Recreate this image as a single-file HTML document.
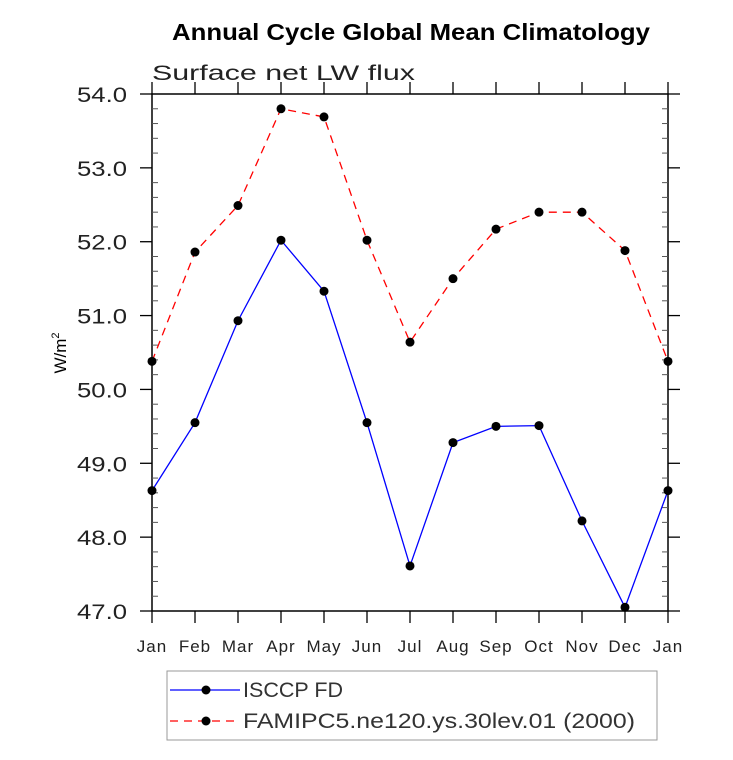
<!DOCTYPE html>
<html><head><meta charset="utf-8"><style>body{margin:0;background:#fff}svg{display:block}</style></head>
<body>
<svg width="733" height="760" viewBox="0 0 733 760" font-family="Liberation Sans, sans-serif">
<text x="172" y="40" font-size="23" font-weight="bold" textLength="478" lengthAdjust="spacingAndGlyphs">Annual Cycle Global Mean Climatology</text>
<text x="152" y="80" font-size="21" fill="#222" textLength="263" lengthAdjust="spacingAndGlyphs">Surface net LW flux</text>
<text transform="translate(66,353) rotate(-90)" text-anchor="middle" font-size="17">W/m<tspan font-size="11" dy="-7">2</tspan></text>
<g id="axes"></g>
<g id="series"></g>
<g>
<rect x="167" y="671" width="490" height="69" fill="none" stroke="#999" stroke-width="1"/>
<line x1="170" y1="690" x2="240" y2="690" stroke="#00f" stroke-width="1.3"/>
<circle cx="206" cy="690" r="4.5"/>
<text x="243" y="697" font-size="21" fill="#333" textLength="100" lengthAdjust="spacingAndGlyphs">ISCCP FD</text>
<line x1="170" y1="721" x2="240" y2="721" stroke="#f00" stroke-width="1.3" stroke-dasharray="8,6"/>
<circle cx="206" cy="721" r="4.5"/>
<text x="243" y="728" font-size="21" fill="#333" textLength="392" lengthAdjust="spacingAndGlyphs">FAMIPC5.ne120.ys.30lev.01 (2000)</text>
</g>
</svg>
<script>
const months=["Jan","Feb","Mar","Apr","May","Jun","Jul","Aug","Sep","Oct","Nov","Dec","Jan"];
const yTicks=[47,48,49,50,51,52,53,54];
const isccp=[48.63,49.55,50.93,52.02,51.33,49.55,47.61,49.28,49.50,49.51,48.22,47.05,48.63];
const famip=[50.38,51.86,52.49,53.80,53.69,52.02,50.64,51.50,52.17,52.40,52.40,51.88,50.38];
const L=152,R=668,T=94,B=611,ymin=47,ymax=54;
const ns="http://www.w3.org/2000/svg";
const xs=i=>L+i*(R-L)/12, ys=v=>B-(v-ymin)*(B-T)/(ymax-ymin);
function mk(t,a,p){const e=document.createElementNS(ns,t);for(const k in a)e.setAttribute(k,a[k]);p.appendChild(e);return e;}
const ax=document.getElementById('axes');
const frame=mk('rect',{x:L,y:T,width:R-L,height:B-T,fill:'none',stroke:'#000','stroke-width':1.5},ax);


months.forEach((m,i)=>{const x=xs(i);
 mk('line',{x1:x,y1:B,x2:x,y2:B+12,stroke:'#000','stroke-width':1.3},ax);
 mk('line',{x1:x,y1:T,x2:x,y2:T-12,stroke:'#000','stroke-width':1.3},ax);
 const t=mk('text',{x:x,y:B+41,'text-anchor':'middle','font-size':17,fill:'#222','letter-spacing':1},ax);t.textContent=m;
 
 
});
for(let v=ymin;v<=ymax+1e-9;v+=0.2){const y=ys(v);const maj=Math.abs(v-Math.round(v))<1e-6;
 if(maj){mk('line',{x1:L-12,y1:y,x2:L,y2:y,stroke:'#000','stroke-width':1.3},ax);mk('line',{x1:R,y1:y,x2:R+12,y2:y,stroke:'#000','stroke-width':1.3},ax);}
 else{mk('line',{x1:L,y1:y,x2:L+6,y2:y,stroke:'#555','stroke-width':1},ax);mk('line',{x1:R-6,y1:y,x2:R,y2:y,stroke:'#555','stroke-width':1},ax);}
}
yTicks.forEach(v=>{const t=mk('text',{x:L-25,y:ys(v)+8,'text-anchor':'end','font-size':21,fill:'#222',textLength:50,lengthAdjust:'spacingAndGlyphs'},ax);t.textContent=v.toFixed(1);
 
 });
const sg=document.getElementById('series');
function series(d,col,dash,name){const p=mk('polyline',{points:d.map((v,i)=>xs(i)+','+ys(v)).join(' '),fill:'none',stroke:col,'stroke-width':1.3,'stroke-dasharray':dash},sg);
 
 
 d.forEach((v,i)=>{const c=mk('circle',{cx:xs(i),cy:ys(v),r:4.5,fill:'#000'},sg);
  
  });}
series(famip,'#f00','8,6','famip');
series(isccp,'#00f','none','isccp');
</script>
</body></html>
